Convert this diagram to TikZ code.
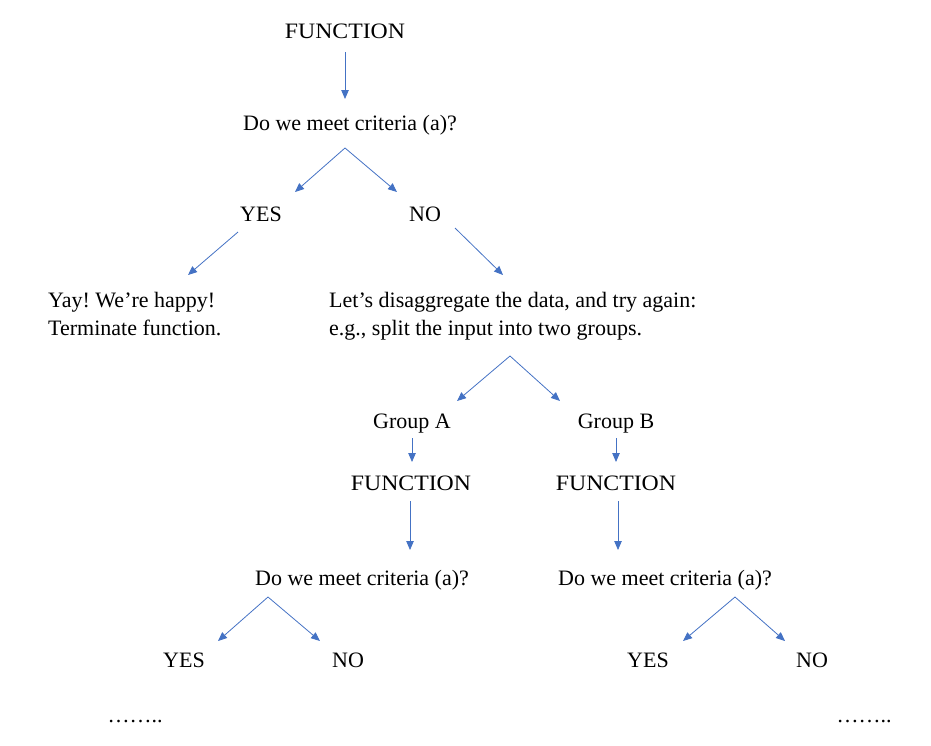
\documentclass[tikz,border=0pt]{standalone}
\usepackage{fontspec}
\setmainfont{Liberation Serif}
\usetikzlibrary{arrows.meta}
\definecolor{arrowblue}{HTML}{4472C4}
\frenchspacing
\tikzset{
  txt/.style={inner sep=0pt, anchor=base, font=\fontsize{22}{28}\selectfont},
  fn/.style={txt, font=\fontsize{22}{28}\selectfont\addfontfeature{FakeStretch=1.08}},
  txtl/.style={inner sep=0pt, anchor=north west, align=left, font=\fontsize{22}{28}\selectfont},
  arr/.style={draw=arrowblue, line width=0.8pt, -{Triangle[width=7.5pt,length=9pt]}, arrowblue}
}
\begin{document}
\begin{tikzpicture}[x=1pt,y=-1pt]
\useasboundingbox (0,0) rectangle (931,745);
% nodes
\node[fn] (f1) at (345,38) {FUNCTION};
\node[txt] (q1) at (350,130) {Do we meet criteria (a)?};
\node[txt] (y1) at (261,221) {YES};
\node[txt] (n1) at (425,221) {NO};
\node[txtl] (yay) at (48,292) {Yay! We’re happy!\\Terminate function.};
\node[txtl] (dis) at (329,292) {Let’s disaggregate the data, and try again:\\e.g., split the input into two groups.};
\node[txt] (ga) at (412,428) {Group A};
\node[txt] (gb) at (616,428) {Group B};
\node[fn] (fa) at (411,490) {FUNCTION};
\node[fn] (fb) at (616,490) {FUNCTION};
\node[txt] (qa) at (362,585) {Do we meet criteria (a)?};
\node[txt] (qb) at (665,585) {Do we meet criteria (a)?};
\node[txt] (ya) at (184,667) {YES};
\node[txt] (na) at (348,667) {NO};
\node[txt] (yb) at (648,667) {YES};
\node[txt] (nb) at (812,667) {NO};
\node[txt] (da) at (135,722) {……..};
\node[txt] (db) at (864,722) {……..};
% connector end points
\coordinate (f1s) at (345,52);   \coordinate (q1n) at (345,99);
\coordinate (q1s) at (345,148);  \coordinate (y1n) at (295,192); \coordinate (n1n) at (397,192);
\coordinate (y1s) at (238,232);  \coordinate (yayn) at (188,275);
\coordinate (n1s) at (455,228);  \coordinate (disn) at (503,275);
\coordinate (diss) at (510,356); \coordinate (gan) at (457,401); \coordinate (gbn) at (560,401);
\coordinate (gas) at (412,438);  \coordinate (fan) at (412,462);
\coordinate (gbs) at (616,438);  \coordinate (fbn) at (616,462);
\coordinate (fas) at (410,501);  \coordinate (qan) at (410,550);
\coordinate (fbs) at (618,501);  \coordinate (qbn) at (618,550);
\coordinate (qas) at (268,597);  \coordinate (yan) at (218,641); \coordinate (nan) at (320,641);
\coordinate (qbs) at (735,597);  \coordinate (ybn) at (683,641); \coordinate (nbn) at (785,641);
% connectors
\draw[arr] (f1s) -- (q1n);
\draw[arr] (q1s) -- (y1n);
\draw[arr] (q1s) -- (n1n);
\draw[arr] (y1s) -- (yayn);
\draw[arr] (n1s) -- (disn);
\draw[arr] (diss) -- (gan);
\draw[arr] (diss) -- (gbn);
\draw[arr] (gas) -- (fan);
\draw[arr] (gbs) -- (fbn);
\draw[arr] (fas) -- (qan);
\draw[arr] (fbs) -- (qbn);
\draw[arr] (qas) -- (yan);
\draw[arr] (qas) -- (nan);
\draw[arr] (qbs) -- (ybn);
\draw[arr] (qbs) -- (nbn);
\end{tikzpicture}
\end{document}
